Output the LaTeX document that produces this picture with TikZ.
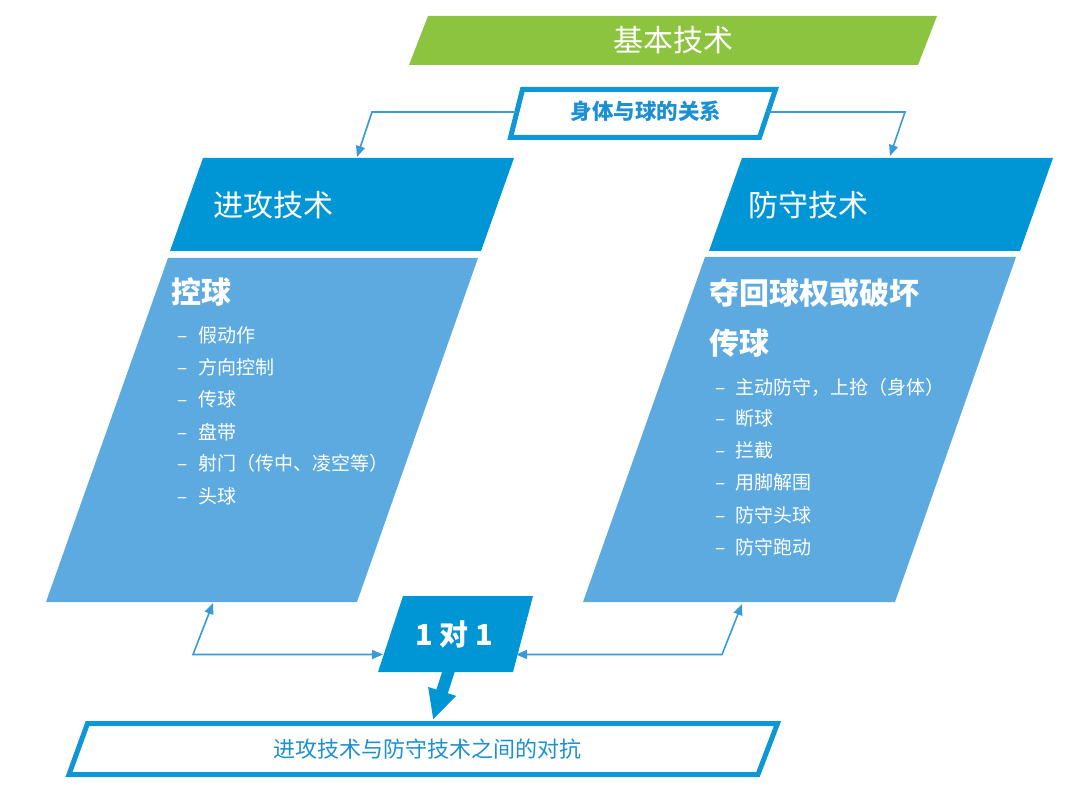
\documentclass[tikz,border=0pt]{standalone}
\usepackage{fontspec}
\setmainfont{Noto Sans CJK SC}
\usetikzlibrary{arrows.meta}
\definecolor{greenbar}{HTML}{8CC43F}
\definecolor{hdrblue}{HTML}{0096D6}
\definecolor{bodyblue}{HTML}{5DAAE0}
\definecolor{edgeblue}{HTML}{0E96D6}
\definecolor{thinblue}{HTML}{3A9AD9}
\definecolor{midtxt}{HTML}{1C90D2}
\begin{document}
\begin{tikzpicture}[x=1pt,y=-1pt,
  fillgreen/.style={fill=greenbar},
  fillhdr/.style={fill=hdrblue},
  fillbody/.style={fill=bodyblue},
  outlinebox/.style={draw=edgeblue, line width=5pt, line join=miter},
  thinarrow/.style={draw=thinblue, line width=1.6pt, line join=miter,
    -{Triangle[length=11pt,width=9pt]}},
  botharrow/.style={draw=thinblue, line width=1.6pt, line join=miter,
    {Triangle[length=11pt,width=9pt]}-{Triangle[length=11pt,width=9pt]}},
  bigtxt/.style={text=white, inner sep=0pt, font=\fontsize{30}{36}\selectfont},
  itemtxt/.style={text=white, inner sep=0pt, font=\fontsize{19}{23}\selectfont, anchor=base west},
  midlabel/.style={text=midtxt, inner sep=0pt, font=\fontsize{21.5}{25}\selectfont\bfseries}
]
\useasboundingbox (0,0) rectangle (1080,802);
\fill[white] (0,0) rectangle (1080,802);

% shapes
\fill[fillgreen] (428,16) -- (937,16) -- (918,65) -- (409,65) -- cycle;
\draw[outlinebox] (522.5,89.5) -- (775.5,89.5) -- (759.5,137.5) -- (510.5,137.5) -- cycle;
\fill[fillhdr] (203,158) -- (514,158) -- (481,251) -- (170,251) -- cycle;
\fill[fillbody] (168,258) -- (478,258) -- (357,602) -- (46,602) -- cycle;
\fill[fillhdr] (742,158) -- (1053,158) -- (1020,251) -- (709,251) -- cycle;
\fill[fillbody] (705,257) -- (1016,257) -- (895,602) -- (583,602) -- cycle;
\fill[fillhdr] (403,596) -- (533,596) -- (513,672) -- (378,672) -- cycle;
\draw[outlinebox] (87.5,723.5) -- (777.5,723.5) -- (758,774.5) -- (69,774.5) -- cycle;

% connector coordinates
\coordinate (midL) at (517,112);
\coordinate (kneeL) at (372,112);
\coordinate (atkTop) at (357,157);
\coordinate (midR) at (768,112);
\coordinate (kneeR) at (905,112);
\coordinate (defTop) at (890,156);
\coordinate (atkBot) at (213,603);
\coordinate (kneeBL) at (193,654.5);
\coordinate (oneL) at (383,654.5);
\coordinate (oneR) at (516,654.5);
\coordinate (kneeBR) at (722,654.5);
\coordinate (defBot) at (742,604);
\coordinate (oneS) at (449,670);
\coordinate (resN) at (433,720);

\draw[thinarrow] (midL) -- (kneeL) -- (atkTop);
\draw[thinarrow] (midR) -- (kneeR) -- (defTop);
\draw[botharrow] (atkBot) -- (kneeBL) -- (oneL);
\draw[botharrow] (oneR) -- (kneeBR) -- (defBot);
\draw[draw=hdrblue, line width=12pt, -{Triangle[length=30pt,width=27pt]}] (oneS) -- (resN);

% texts
\node[bigtxt, anchor=base] (basic) at (673,51.4) {基本技术};
\node[midlabel, anchor=base] (rel) at (646,119.8) {身体与球的关系};
\node[bigtxt, anchor=base west] (atk) at (213,216.4) {进攻技术};
\node[bigtxt, anchor=base west] (def) at (748,216.4) {防守技术};
\node[bigtxt, anchor=base west, font=\fontsize{30}{36}\selectfont\bfseries] (ctrl) at (171,303.4) {控球};
\node[bigtxt, anchor=base west, font=\fontsize{30}{36}\selectfont\bfseries] (steal) at (709,304.4) {夺回球权或破坏};
\node[bigtxt, anchor=base west, font=\fontsize{30}{36}\selectfont\bfseries] (pass) at (709,354.4) {传球};

\foreach \t/\y [count=\i] in {假动作/335, 方向控制/367, 传球/399, 盘带/432, 射门（传中、凌空等）/463, 头球/496}{
  \node[itemtxt] (ld\i) at (177,\y+7.2) {–};
  \node[itemtxt] (li\i) at (198,\y+7.2) {\t};
}
\foreach \t/\y [count=\i] in {主动防守，上抢（身体）/387, 断球/418, 拦截/450, 用脚解围/482, 防守头球/515, 防守跑动/547}{
  \node[itemtxt] (rd\i) at (715,\y+7.2) {–};
  \node[itemtxt] (ri\i) at (735,\y+7.2) {\t};
}

\node[text=white, inner sep=0pt, font=\fontsize{29}{33}\selectfont\bfseries, anchor=base] (one) at (454,645.5) {1 对 1};
\node[text=midtxt, inner sep=0pt, font=\fontsize{22}{26}\selectfont, anchor=base] (res) at (427,757.4) {进攻技术与防守技术之间的对抗};
\end{tikzpicture}
\end{document}
